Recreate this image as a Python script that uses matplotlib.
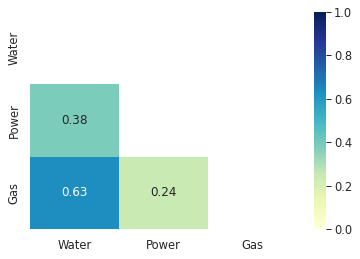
import numpy as np
import pandas as pd
import matplotlib

matplotlib.use("Agg")
import matplotlib.pyplot as plt
import seaborn as sns

labels = ["Water", "Power", "Gas"]
water = [1.0, 0.38, 0.63]
power = [0.38, 1.0, 0.24]
gas = [0.63, 0.24, 1.0]

corr = pd.DataFrame({"Water": water, "Power": power, "Gas": gas}, index=labels)
mask = np.triu(np.ones_like(corr, dtype=bool))

sns.set_theme(style="white")

fig = plt.figure(figsize=(5, 3.6), dpi=72)
ax = fig.add_axes([30 / 360, 30 / 259, 267 / 360, 217 / 259])
cax = fig.add_axes([314 / 360, 30 / 259, 12 / 360, 217 / 259])

sns.heatmap(corr, mask=mask, cmap="YlGnBu", vmin=0, vmax=1, annot=True,
            annot_kws={"fontsize": 12}, ax=ax, cbar_ax=cax)

ax.tick_params(labelsize=11.5)
cax.tick_params(axis="y", labelsize=11.5, right=True, length=5, width=1,
                pad=3, direction="out", color="#262626")

fig.savefig("out.png", dpi=72)
